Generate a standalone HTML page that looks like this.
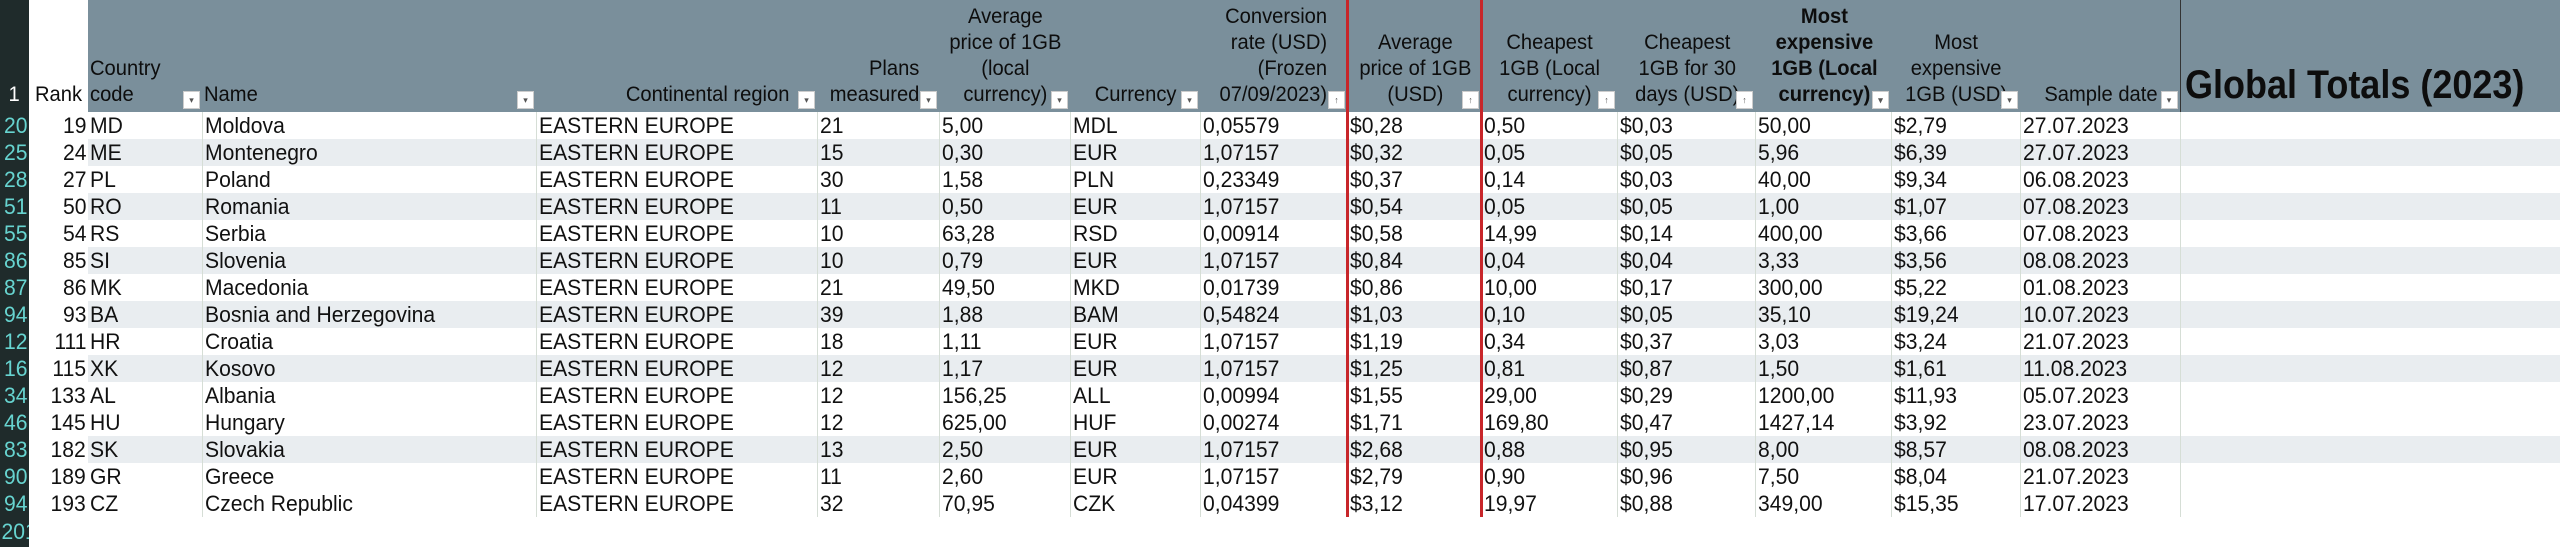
<!DOCTYPE html>
<html><head><meta charset="utf-8"><style>
*{margin:0;padding:0;box-sizing:border-box}
body{width:2560px;height:532px;background:#fff;overflow:hidden;font-family:"Liberation Sans",Arial,sans-serif;position:relative}
table{border-collapse:collapse;table-layout:fixed;position:absolute;left:0;top:0;width:2560px}
td{font-size:22px;color:#111;height:27px;line-height:27px;white-space:nowrap;overflow:hidden;padding-left:2px;border-left:1px solid #d6ded6}
td>span{display:inline-block;transform:scaleX(.96);transform-origin:0 50%}
tr.h td{height:112px;background:#7a8f9b;color:#0d0d0d;font-size:21px;line-height:26px;vertical-align:bottom;padding-bottom:4px;text-align:center;position:relative;border-left:none}
tr.h td>span{transform-origin:50% 100%}
tr.h td.l>span{transform-origin:0 100%}
tr.h td.r>span{transform-origin:100% 100%}
tr.h td.rn,tr.h td.rk{background:#fff}
td.rn{background:#1f2b2b;color:#67d4d0;text-align:right;padding:0 2px 0 0;border-left:none}
td.rn>span,td.rk>span{transform-origin:100% 50%}
td.rk{text-align:right;padding:0 2px 0 0;border-left:none;background:#fff!important}
tr.g td{background:#e9edf0}
tr.g td.rn{background:#1f2b2b}
td.c1{border-left:none}
.f{position:absolute;right:2px;bottom:3px;width:17px;height:18px;background:#fff;border:1px solid #ccc;font-size:9px;line-height:16px;color:#555;text-align:center;font-style:normal}
.red{position:absolute;top:0;width:3px;height:517px;background:#c8262a}
tr.h td.gt{text-align:left;font-weight:bold;font-size:40px;line-height:44px;padding-left:4px;padding-bottom:5px;border-left:1px solid #333}
tr.h td.gt>span{transform:scaleX(.9);transform-origin:0 100%}
</style></head><body>
<table>
<colgroup><col style="width:29px"><col style="width:59px"><col style="width:114px"><col style="width:334px"><col style="width:281px"><col style="width:122px"><col style="width:131px"><col style="width:130px"><col style="width:147px"><col style="width:134px"><col style="width:136px"><col style="width:138px"><col style="width:136px"><col style="width:129px"><col style="width:160px"><col style="width:380px"></colgroup>
<tr class="h"><td class="rn" style="background:#1f2b2b;color:#fff"><span style="transform-origin:100% 100%">1</span></td><td class="rk r"><span>Rank</span></td><td class="c1 l" style="text-align:left"><span>Country<br>code</span><i class="f">▾</i></td><td class="l" style="text-align:left"><span>Name</span><i class="f">▾</i></td><td class="r" style="text-align:right;padding-right:28px"><span>Continental region</span><i class="f">▾</i></td><td class="r" style="text-align:right;padding-right:20px"><span>Plans<br>measured</span><i class="f">▾</i></td><td><span>Average<br>price of 1GB<br>(local<br>currency)</span><i class="f">▾</i></td><td><span>Currency</span><i class="f">▾</i></td><td class="r" style="text-align:right;padding-right:20px"><span>Conversion<br>rate (USD)<br>(Frozen<br>07/09/2023)</span><i class="f">↑</i></td><td><span>Average<br>price of 1GB<br>(USD)</span><i class="f">↑</i></td><td><span>Cheapest<br>1GB (Local<br>currency)</span><i class="f">↑</i></td><td><span>Cheapest<br>1GB for 30<br>days (USD)</span><i class="f">↑</i></td><td style="font-weight:bold"><span>Most<br>expensive<br>1GB (Local<br>currency)</span><i class="f">▾</i></td><td><span>Most<br>expensive<br>1GB (USD)</span><i class="f">▾</i></td><td><span>Sample date</span><i class="f">▾</i></td><td class="gt"><span>Global Totals (2023)</span></td></tr>
<tr><td class="rn"><span>20</span></td><td class="rk"><span>19</span></td><td class="c1"><span>MD</span></td><td><span>Moldova</span></td><td><span>EASTERN EUROPE</span></td><td><span>21</span></td><td><span>5,00</span></td><td><span>MDL</span></td><td><span>0,05579</span></td><td><span>$0,28</span></td><td><span>0,50</span></td><td><span>$0,03</span></td><td><span>50,00</span></td><td><span>$2,79</span></td><td><span>27.07.2023</span></td><td></td></tr>
<tr class="g"><td class="rn"><span>25</span></td><td class="rk"><span>24</span></td><td class="c1"><span>ME</span></td><td><span>Montenegro</span></td><td><span>EASTERN EUROPE</span></td><td><span>15</span></td><td><span>0,30</span></td><td><span>EUR</span></td><td><span>1,07157</span></td><td><span>$0,32</span></td><td><span>0,05</span></td><td><span>$0,05</span></td><td><span>5,96</span></td><td><span>$6,39</span></td><td><span>27.07.2023</span></td><td></td></tr>
<tr><td class="rn"><span>28</span></td><td class="rk"><span>27</span></td><td class="c1"><span>PL</span></td><td><span>Poland</span></td><td><span>EASTERN EUROPE</span></td><td><span>30</span></td><td><span>1,58</span></td><td><span>PLN</span></td><td><span>0,23349</span></td><td><span>$0,37</span></td><td><span>0,14</span></td><td><span>$0,03</span></td><td><span>40,00</span></td><td><span>$9,34</span></td><td><span>06.08.2023</span></td><td></td></tr>
<tr class="g"><td class="rn"><span>51</span></td><td class="rk"><span>50</span></td><td class="c1"><span>RO</span></td><td><span>Romania</span></td><td><span>EASTERN EUROPE</span></td><td><span>11</span></td><td><span>0,50</span></td><td><span>EUR</span></td><td><span>1,07157</span></td><td><span>$0,54</span></td><td><span>0,05</span></td><td><span>$0,05</span></td><td><span>1,00</span></td><td><span>$1,07</span></td><td><span>07.08.2023</span></td><td></td></tr>
<tr><td class="rn"><span>55</span></td><td class="rk"><span>54</span></td><td class="c1"><span>RS</span></td><td><span>Serbia</span></td><td><span>EASTERN EUROPE</span></td><td><span>10</span></td><td><span>63,28</span></td><td><span>RSD</span></td><td><span>0,00914</span></td><td><span>$0,58</span></td><td><span>14,99</span></td><td><span>$0,14</span></td><td><span>400,00</span></td><td><span>$3,66</span></td><td><span>07.08.2023</span></td><td></td></tr>
<tr class="g"><td class="rn"><span>86</span></td><td class="rk"><span>85</span></td><td class="c1"><span>SI</span></td><td><span>Slovenia</span></td><td><span>EASTERN EUROPE</span></td><td><span>10</span></td><td><span>0,79</span></td><td><span>EUR</span></td><td><span>1,07157</span></td><td><span>$0,84</span></td><td><span>0,04</span></td><td><span>$0,04</span></td><td><span>3,33</span></td><td><span>$3,56</span></td><td><span>08.08.2023</span></td><td></td></tr>
<tr><td class="rn"><span>87</span></td><td class="rk"><span>86</span></td><td class="c1"><span>MK</span></td><td><span>Macedonia</span></td><td><span>EASTERN EUROPE</span></td><td><span>21</span></td><td><span>49,50</span></td><td><span>MKD</span></td><td><span>0,01739</span></td><td><span>$0,86</span></td><td><span>10,00</span></td><td><span>$0,17</span></td><td><span>300,00</span></td><td><span>$5,22</span></td><td><span>01.08.2023</span></td><td></td></tr>
<tr class="g"><td class="rn"><span>94</span></td><td class="rk"><span>93</span></td><td class="c1"><span>BA</span></td><td><span>Bosnia and Herzegovina</span></td><td><span>EASTERN EUROPE</span></td><td><span>39</span></td><td><span>1,88</span></td><td><span>BAM</span></td><td><span>0,54824</span></td><td><span>$1,03</span></td><td><span>0,10</span></td><td><span>$0,05</span></td><td><span>35,10</span></td><td><span>$19,24</span></td><td><span>10.07.2023</span></td><td></td></tr>
<tr><td class="rn"><span>12</span></td><td class="rk"><span>111</span></td><td class="c1"><span>HR</span></td><td><span>Croatia</span></td><td><span>EASTERN EUROPE</span></td><td><span>18</span></td><td><span>1,11</span></td><td><span>EUR</span></td><td><span>1,07157</span></td><td><span>$1,19</span></td><td><span>0,34</span></td><td><span>$0,37</span></td><td><span>3,03</span></td><td><span>$3,24</span></td><td><span>21.07.2023</span></td><td></td></tr>
<tr class="g"><td class="rn"><span>16</span></td><td class="rk"><span>115</span></td><td class="c1"><span>XK</span></td><td><span>Kosovo</span></td><td><span>EASTERN EUROPE</span></td><td><span>12</span></td><td><span>1,17</span></td><td><span>EUR</span></td><td><span>1,07157</span></td><td><span>$1,25</span></td><td><span>0,81</span></td><td><span>$0,87</span></td><td><span>1,50</span></td><td><span>$1,61</span></td><td><span>11.08.2023</span></td><td></td></tr>
<tr><td class="rn"><span>34</span></td><td class="rk"><span>133</span></td><td class="c1"><span>AL</span></td><td><span>Albania</span></td><td><span>EASTERN EUROPE</span></td><td><span>12</span></td><td><span>156,25</span></td><td><span>ALL</span></td><td><span>0,00994</span></td><td><span>$1,55</span></td><td><span>29,00</span></td><td><span>$0,29</span></td><td><span>1200,00</span></td><td><span>$11,93</span></td><td><span>05.07.2023</span></td><td></td></tr>
<tr><td class="rn"><span>46</span></td><td class="rk"><span>145</span></td><td class="c1"><span>HU</span></td><td><span>Hungary</span></td><td><span>EASTERN EUROPE</span></td><td><span>12</span></td><td><span>625,00</span></td><td><span>HUF</span></td><td><span>0,00274</span></td><td><span>$1,71</span></td><td><span>169,80</span></td><td><span>$0,47</span></td><td><span>1427,14</span></td><td><span>$3,92</span></td><td><span>23.07.2023</span></td><td></td></tr>
<tr class="g"><td class="rn"><span>83</span></td><td class="rk"><span>182</span></td><td class="c1"><span>SK</span></td><td><span>Slovakia</span></td><td><span>EASTERN EUROPE</span></td><td><span>13</span></td><td><span>2,50</span></td><td><span>EUR</span></td><td><span>1,07157</span></td><td><span>$2,68</span></td><td><span>0,88</span></td><td><span>$0,95</span></td><td><span>8,00</span></td><td><span>$8,57</span></td><td><span>08.08.2023</span></td><td></td></tr>
<tr><td class="rn"><span>90</span></td><td class="rk"><span>189</span></td><td class="c1"><span>GR</span></td><td><span>Greece</span></td><td><span>EASTERN EUROPE</span></td><td><span>11</span></td><td><span>2,60</span></td><td><span>EUR</span></td><td><span>1,07157</span></td><td><span>$2,79</span></td><td><span>0,90</span></td><td><span>$0,96</span></td><td><span>7,50</span></td><td><span>$8,04</span></td><td><span>21.07.2023</span></td><td></td></tr>
<tr><td class="rn"><span>94</span></td><td class="rk"><span>193</span></td><td class="c1"><span>CZ</span></td><td><span>Czech Republic</span></td><td><span>EASTERN EUROPE</span></td><td><span>32</span></td><td><span>70,95</span></td><td><span>CZK</span></td><td><span>0,04399</span></td><td><span>$3,12</span></td><td><span>19,97</span></td><td><span>$0,88</span></td><td><span>349,00</span></td><td><span>$15,35</span></td><td><span>17.07.2023</span></td><td></td></tr>
<tr><td class="rn" style="vertical-align:top;line-height:30px"><span>201</span></td><td class="rk"></td><td class="c1" style="border:none"></td><td style="border:none"></td><td style="border:none"></td><td style="border:none"></td><td style="border:none"></td><td style="border:none"></td><td style="border:none"></td><td style="border:none"></td><td style="border:none"></td><td style="border:none"></td><td style="border:none"></td><td style="border:none"></td><td style="border:none"></td><td style="border:none"></td></tr>
</table>
<div class="red" style="left:1346px"></div>
<div class="red" style="left:1480px"></div>
</body></html>
